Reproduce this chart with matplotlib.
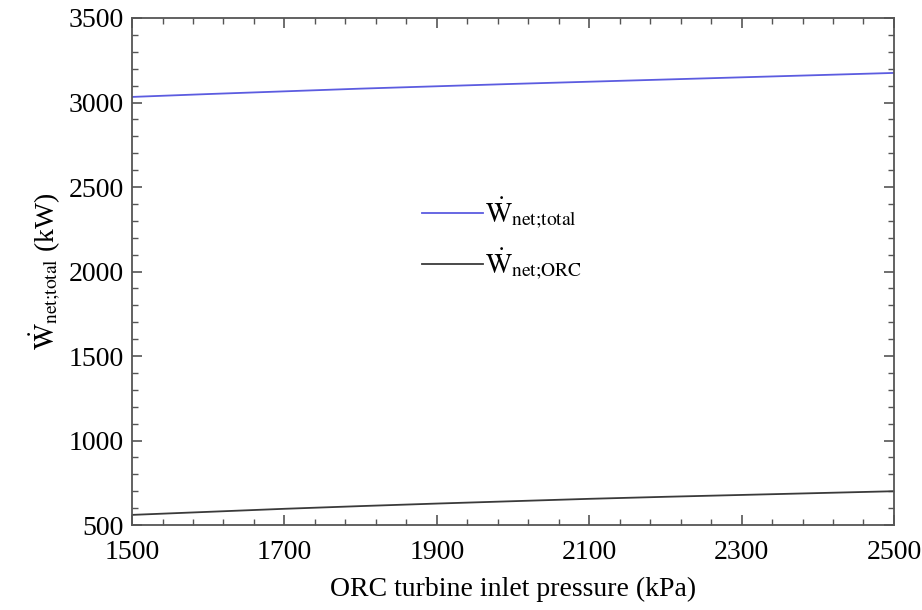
import matplotlib
matplotlib.use("Agg")
import matplotlib.pyplot as plt
from matplotlib.ticker import MultipleLocator

plt.rcParams['font.family'] = 'Liberation Serif'
plt.rcParams['mathtext.fontset'] = 'stix'

# turbine inlet pressure (kPa) and net power (kW)
pressure = [1500, 1600, 1700, 1800, 1900, 2000, 2100, 2200, 2300, 2400, 2500]
w_total = [3033, 3050, 3066, 3082, 3096, 3110, 3123, 3136, 3149, 3162, 3175]
w_orc = [560, 578, 596, 612, 627, 641, 655, 667, 678, 689, 700]
x_major = [1500, 1700, 1900, 2100, 2300, 2500]

fig = plt.figure(figsize=(9.22, 6.10), dpi=100)
ax = fig.add_axes([0.1432, 0.1393, 0.8264, 0.8312])

ax.plot(pressure, w_total, color='#5c5ce0', lw=1.3,
        label=r'$\dot{\mathrm{W}}_{\text{net;total}}$')
ax.plot(pressure, w_orc, color='#3a3a3a', lw=1.3,
        label=r'$\dot{\mathrm{W}}_{\text{net;ORC}}$')

ax.set_xlim(1500, 2500)
ax.set_ylim(500, 3500)
ax.set_xticks(x_major)
ax.set_xticks(range(1500, 2501, 40), minor=True)
ax.yaxis.set_major_locator(MultipleLocator(500))
ax.yaxis.set_minor_locator(MultipleLocator(100))

ax.tick_params(which='both', direction='in', top=True, right=True,
               colors='#555555', labelcolor='black', labelsize=20)
ax.tick_params(which='major', length=7, width=1.2, pad=6)
ax.tick_params(axis='x', which='major', pad=11)
ax.tick_params(which='minor', length=4, width=1.0)
for s in ax.spines.values():
    s.set_color('#555555')
    s.set_linewidth(1.3)

ax.set_xlabel('ORC turbine inlet pressure (kPa)', fontsize=20, labelpad=8)
ax.set_ylabel(r'$\dot{\mathrm{W}}_{\text{net;total}}$ (kW)', fontsize=20, labelpad=4)

ax.legend(loc='upper left', bbox_to_anchor=(0.38, 0.65), frameon=False,
          fontsize=20, handlelength=2.2, handletextpad=0.1, labelspacing=0.55,
          borderpad=0, borderaxespad=0)

fig.savefig('out.png', dpi=100)
